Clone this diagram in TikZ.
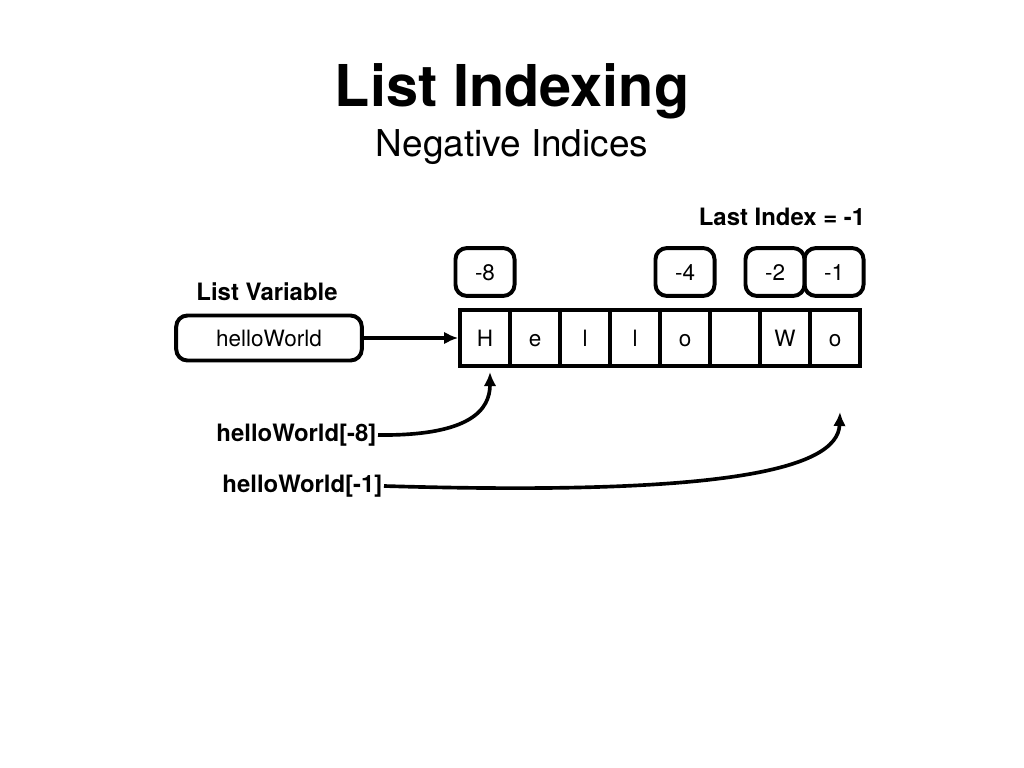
\documentclass[tikz,border=0pt]{standalone}
\usepackage{fontspec}
\setmainfont{TeX Gyre Heros}
\usetikzlibrary{arrows.meta}
\tikzset{
  box/.style={draw,line width=2.8pt,rounded corners=8pt,font=\fontsize{16}{18}\selectfont,text height=14pt,text depth=2pt},
  cell/.style={draw,line width=2.8pt,minimum width=35.4pt,minimum height=39.7pt,font=\fontsize{16}{18}\selectfont,text height=14pt,text depth=2pt},
  lbl/.style={font=\fontsize{17}{20}\selectfont\bfseries,inner sep=1pt},
  arr/.style={line width=2.6pt,-{Latex[length=10pt,width=9pt]}}
}
\begin{document}
\begin{tikzpicture}[x=0.025cm,y=-0.025cm]
		\useasboundingbox (0,0) rectangle (1024,768);
		\node[font=\fontsize{41}{46}\selectfont\bfseries] (title) at (512,91) {List Indexing};
		\node[font=\fontsize{26.3}{30}\selectfont] (sub) at (512,147) {Negative Indices};
		\node[lbl] (lv) at (267,292) {List Variable};
		\node[lbl] (last) at (782,217) {Last Index = -1};
		\node[box,minimum width=132pt,minimum height=32pt] (hw) at (269,338) {helloWorld};
		\foreach \ch [count=\i] in {H,e,l,l,o,{},W,o}
		\node[cell] (c\i) at (435+50*\i,338) {\ch};
		\foreach \n/\x in {8/485,4/685,2/775,1/834}
		\node[box,minimum width=42pt,minimum height=34pt] (n\n) at (\x,272) {-\n};
		\draw[arr] (hw.east)--(c1.west);
		\path
		(490,372) coordinate (t8)
		(840,412) coordinate (t1);
		\node[lbl,anchor=east] (a8) at (378,435) {helloWorld[-8]};
		\node[lbl,anchor=east] (a1) at (384,486) {helloWorld[-1]};
		\draw[arr] (a8.east) .. controls (470,436) and (490,410) .. (t8);
		\draw[arr] (a1.east) .. controls (720,496) and (838,470) .. (t1);
		
	\end{tikzpicture}
\end{document}
